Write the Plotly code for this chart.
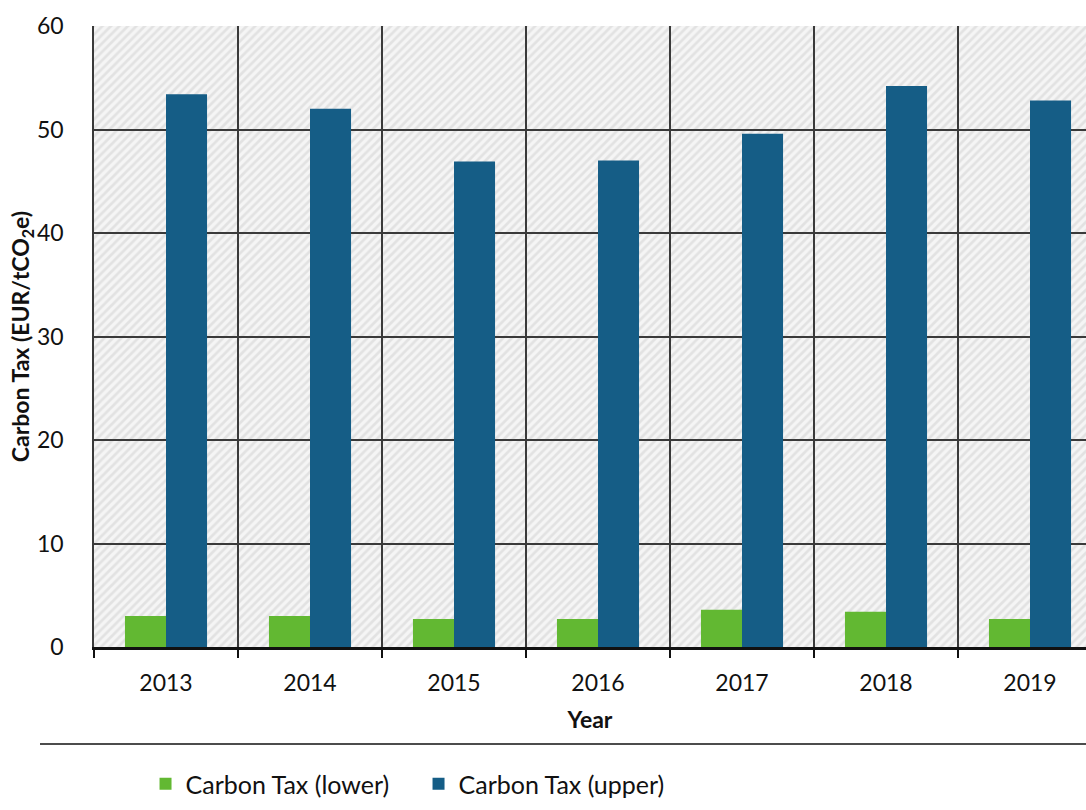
import plotly.graph_objects as go

# Annual carbon tax range (EUR per tonne CO2e)
years = ["2013", "2014", "2015", "2016", "2017", "2018", "2019"]
tax_lower = [3.0, 3.0, 2.7, 2.7, 3.6, 3.4, 2.7]
tax_upper = [53.4, 52.0, 46.9, 47.0, 49.6, 54.2, 52.8]

y_max = 60
green = "#62B832"
blue = "#155D86"
grid_col = "#3A3A3A"
font_family = "Lato, 'Open Sans', sans-serif"

fig = go.Figure()

# Hatched plot background on its own subplot, drawn beneath the grid
fig.add_trace(go.Bar(
    x=[0.5], y=[y_max], width=[1.0],
    xaxis="x", yaxis="y",
    marker=dict(color="#F4F4F4", line=dict(width=0),
                pattern=dict(shape="/", fgcolor="#CFCFCF", bgcolor="#F5F5F5",
                             size=6, solidity=0.45)),
    showlegend=False, hoverinfo="skip",
))

fig.add_trace(go.Bar(
    x=years, y=tax_lower, name="Carbon Tax (lower)",
    xaxis="x2", yaxis="y2",
    marker=dict(color=green, line=dict(width=0)),
))
fig.add_trace(go.Bar(
    x=years, y=tax_upper, name="Carbon Tax (upper)",
    xaxis="x2", yaxis="y2",
    marker=dict(color=blue, line=dict(width=0)),
))

plot_left, plot_right = 94, 1102  # category band extends past the right edge
fig_w = 1086
cut = (plot_right - fig_w) / ((plot_right - plot_left) / len(years))

fig.update_layout(
    width=1086, height=810,
    margin=dict(l=94, r=0, t=26, b=163, autoexpand=False),
    paper_bgcolor="white", plot_bgcolor="rgba(0,0,0,0)",
    font=dict(family=font_family, size=23, color="#111111"),
    barmode="group", bargap=0.43, bargroupgap=0,
    xaxis=dict(range=[0, 1], visible=False, anchor="y"),
    yaxis=dict(range=[0, y_max], visible=False, anchor="x"),
    xaxis2=dict(
        type="category", categoryorder="array", categoryarray=years,
        range=[-0.5, len(years) - 0.5 - cut], anchor="y2",
        tickson="boundaries", ticks="outside", ticklen=8, tickwidth=2,
        tickcolor="#111111", ticklabelstandoff=14,
        showgrid=True, gridcolor=grid_col, gridwidth=1.5,
        showline=True, linecolor="#111111", linewidth=2.5,
        tickfont=dict(size=23),
        title=dict(text="<b>Year</b>", font=dict(size=23), standoff=17),
    ),
    yaxis2=dict(
        range=[0, y_max], dtick=10, anchor="x2",
        showgrid=True, gridcolor=grid_col, gridwidth=1.5,
        showline=True, linecolor=grid_col, linewidth=1.5,
        ticks="", tickfont=dict(size=23), zeroline=False,
        ticklabelstandoff=24,
        title=dict(text="<b>Carbon Tax (EUR/tCO<sub>2</sub>e)</b>",
                   font=dict(size=23), standoff=1),
    ),
    legend=dict(orientation="h", xref="container", yref="container",
                x=0.134, y=1 - 784 / 810, xanchor="left", yanchor="middle",
                font=dict(size=25), itemwidth=30,
                entrywidth=228, entrywidthmode="pixels",
                bgcolor="rgba(0,0,0,0)"),
    shapes=[dict(type="line", xref="paper", yref="paper",
                 x0=(40 - 94) / 992, x1=1.0, y0=-0.156, y1=-0.156,
                 line=dict(color="#111111", width=1.5))],
)

fig.write_html("out.html")
